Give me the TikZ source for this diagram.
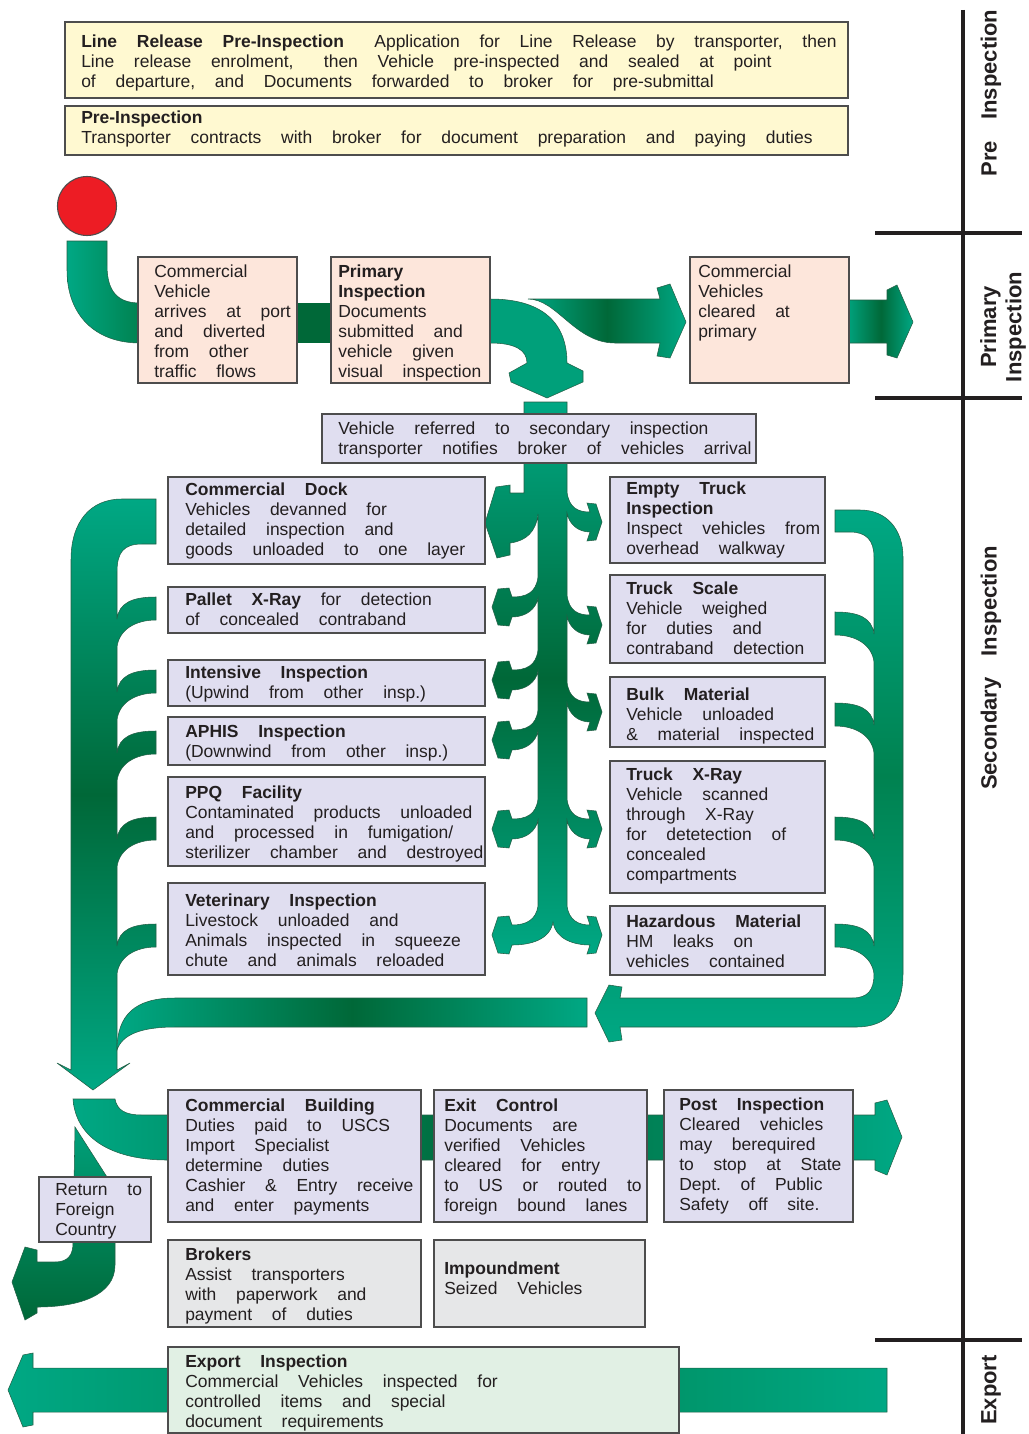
\documentclass[tikz,border=0pt]{standalone}
\usepackage{fontspec}
\setmainfont{Liberation Sans}
\usetikzlibrary{fit}
\definecolor{gl}{RGB}{0,168,132}
\definecolor{glb}{RGB}{0,160,122}
\definecolor{gd}{RGB}{0,104,56}
\definecolor{gm}{RGB}{0,130,80}
\definecolor{cyel}{RGB}{255,249,209}
\definecolor{cpch}{RGB}{253,230,219}
\definecolor{clav}{RGB}{224,222,240}
\definecolor{cgry}{RGB}{230,231,232}
\definecolor{cexp}{RGB}{225,240,228}
\definecolor{boxline}{RGB}{77,77,77}
\definecolor{ctext}{RGB}{35,31,32}
\definecolor{cred}{RGB}{237,28,36}
\definecolor{carr}{RGB}{35,95,70}
\newcommand\txtfont{\fontsize{13.1}{15}\selectfont\frenchspacing\spaceskip=14.8pt\relax}
\newcommand\labfont{\fontsize{16.5}{19}\selectfont\bfseries\frenchspacing\spaceskip=16pt\relax}
% left branch of trunk (path going down along x=538)
\newcommand\lbr[1]{-- (538,#1-30) .. controls (536,#1-14) and (526,#1-10) .. (512,#1-10) -- (509,#1-19) -- (498,#1-18) -- (492,#1) -- (498,#1+18) -- (509,#1+19) -- (512,#1+10) .. controls (526,#1+10) and (536,#1+2) .. (538,#1-9)}
% right branch of trunk (path going up along x=567)
\newcommand\rbr[1]{-- (567,#1-9) .. controls (569,#1+2) and (578,#1+10) .. (590,#1+10) -- (587,#1+19) -- (596,#1+18) -- (602,#1) -- (596,#1-18) -- (587,#1-19) -- (590,#1-10) .. controls (578,#1-10) and (569,#1-14) .. (567,#1-30)}
% fins on the left loop (path going up along x=117)
\newcommand\lfin[1]{-- (117,#1+50) .. controls (119,#1+33) and (135,#1+23) .. (156,#1+23) -- (156,#1) .. controls (132,#1) and (119,#1+6) .. (117,#1+22)}
% fins on the right loop (path going up along x=874)
\newcommand\rfin[1]{-- (874,#1+50) .. controls (872,#1+33) and (856,#1+23) .. (835,#1+23) -- (835,#1) .. controls (859,#1) and (872,#1+6) .. (874,#1+22)}
\newcommand\bx[9]{%
  \node[boxs,#6,fit={(#2,#3) (#4,#5)}] (#1) {};
  \node[txt,anchor=north west] (#1t) at (#7,#8-14) {\rule{0pt}{10.5pt}#9};}
\begin{document}
\begin{tikzpicture}[x=0.75pt,y=-0.75pt,
  boxs/.style={draw=boxline,line width=0.9pt,inner sep=0pt},
  yel/.style={fill=cyel}, pch/.style={fill=cpch}, lav/.style={fill=clav},
  gry/.style={fill=cgry}, exf/.style={fill=cexp},
  txt/.style={inner sep=0pt,align=left,font=\txtfont,text=ctext},
  lab/.style={inner sep=0pt,align=center,font=\labfont,text=ctext,rotate=90},
  arr/.style={draw=carr,line width=0.4pt},
  divider/.style={draw=ctext,line width=3pt}]
\useasboundingbox (0,0) rectangle (1028,1434);

% ---------- green flow arrows ----------
% from start circle into first box
\path[arr,left color=gl,right color=gm] (67,241) -- (107,241) -- (107,265) .. controls (107,292) and (118,303) .. (140,303) -- (140,343) .. controls (95,343) and (67,315) .. (67,270) -- cycle;
% bar between the two primary boxes
\path[fill=gd] (290,303) rectangle (338,343);
% S-shaped arrow to "cleared at primary"
\path[arr,left color=gl,right color=gl,middle color=gd] (528,299) -- (660,299) -- (657,288) -- (670,284) -- (686,322) -- (670,358) -- (657,356) -- (660,343) -- (615,343) .. controls (575,343) and (557,299) .. (528,299) -- cycle;
% curved arrow down to secondary
\path[arr,fill=glb] (490,299) .. controls (545,299) and (567,325) .. (567,363) -- (583,371) -- (583,382) -- (547,398) -- (511,382) -- (509,373) -- (527,363) .. controls (527,350) and (515,343) .. (490,343) -- cycle;
% exit arrow after cleared box
\path[arr,left color=glb,right color=gl,middle color=gd] (849,300) -- (887,300) -- (887,290) -- (897,285) -- (913,322) -- (897,358) -- (887,355) -- (887,343) -- (849,343) -- cycle;

% central trunk with branches
\path[arr,top color=gl,bottom color=gl,middle color=gd]
 (524,402) -- (524,493) -- (510,493) -- (510,485) -- (496,487) -- (485,523) -- (497,558) -- (510,555) -- (510,543)
 .. controls (526,541) and (536,532) .. (538,514)
 \lbr{607}\lbr{680}\lbr{740}\lbr{829}
 -- (538,906) .. controls (536,920) and (526,925) .. (512,925) -- (509,916) -- (498,917) -- (492,935) -- (498,953) -- (509,954) -- (512,945)
 .. controls (530,945) and (550,940) .. (553,922)
 .. controls (556,940) and (575,945) .. (590,945) -- (587,954) -- (596,953) -- (602,935) -- (596,917) -- (587,916) -- (590,925)
 .. controls (578,925) and (569,920) .. (567,906)
 \rbr{829}\rbr{712}\rbr{625}\rbr{522}
 -- (567,402) -- cycle;

% left collecting loop
\path[arr,top color=gl,bottom color=gl,middle color=gd]
 (156,499) -- (122,499) .. controls (90,499) and (71,522) .. (71,560) -- (71,1070) -- (57,1063) -- (93,1090) -- (130,1063) -- (117,1070)
 \lfin{924}\lfin{817}\lfin{731}\lfin{670}\lfin{597}
 -- (117,572) .. controls (117,552) and (124,544) .. (142,544) -- (156,544) -- cycle;
% return band joining the left loop
\path[arr,left color=gl,right color=gl,middle color=gd] (117,1050) .. controls (117,1015) and (135,998) .. (175,998) -- (587,998) -- (587,1027) -- (175,1027) .. controls (140,1027) and (122,1035) .. (117,1050) -- cycle;
% right collecting loop
\path[arr,top color=gl,bottom color=gl,middle color=gm]
 (835,510) -- (860,510) .. controls (887,510) and (903,530) .. (903,557) -- (903,973) .. controls (903,1008) and (888,1027) .. (856,1027)
 -- (620,1027) -- (622,1040) -- (609,1042) -- (595,1013) -- (609,985) -- (622,987) -- (620,998) -- (852,998) .. controls (868,998) and (874,990) .. (874,974)
 \rfin{924}\rfin{817}\rfin{703}\rfin{612}
 -- (874,557) .. controls (874,540) and (866,532) .. (850,532) -- (835,532) -- cycle;
% bottom band through the exit boxes
\path[arr,left color=gl,right color=gl,middle color=gd] (73,1099) -- (115,1099) .. controls (117,1110) and (125,1115) .. (142,1115) -- (875,1115) -- (875,1103) -- (887,1100) -- (902,1137) -- (887,1175) -- (875,1170) -- (875,1160) -- (167,1160) .. controls (115,1160) and (76,1140) .. (73,1099) -- cycle;
% return to foreign country
\path[arr,top color=glb,bottom color=gd] (75,1127) -- (107,1177) -- (115,1243) -- (115,1265) .. controls (115,1295) and (80,1307) .. (37,1307) -- (37,1313) -- (25,1320) -- (12,1282) -- (25,1247) -- (37,1250) -- (37,1262) -- (55,1262) .. controls (68,1262) and (73,1255) .. (73,1243) -- cycle;
% export band
\path[arr,left color=gl,right color=gl,middle color=gm] (887,1368) -- (887,1412) -- (33,1412) -- (33,1425) -- (23,1427) -- (8,1390) -- (23,1355) -- (33,1353) -- (33,1368) -- cycle;

% start circle
\node[circle,fill=cred,draw=boxline,line width=0.8pt,minimum size=44.25pt,inner sep=0pt] (start) at (87,206) {};

% ---------- boxes ----------
\bx{lr}{65}{22}{848}{98}{yel}{81}{47}{\textbf{Line Release Pre-Inspection}\hspace{8pt} Application for Line Release by transporter, then\\Line release enrolment,\hspace{8pt} then Vehicle pre-inspected and sealed at point\\of departure, and Documents forwarded to broker for pre-submittal}
\bx{pi}{65}{106}{848}{155}{yel}{81}{123}{\textbf{Pre-Inspection}\\Transporter contracts with broker for document preparation and paying duties}
\bx{cv}{138}{257}{297}{383}{pch}{154}{277}{Commercial\\Vehicle\\arrives at port\\and diverted\\from other\\traffic flows}
\bx{prim}{331}{257}{490}{383}{pch}{338}{277}{\textbf{Primary}\\\textbf{Inspection}\\Documents\\submitted and\\vehicle given\\visual inspection}
\bx{clr}{690}{257}{849}{383}{pch}{698}{277}{Commercial\\Vehicles\\cleared at\\primary}
\bx{ref}{322}{414}{756}{463}{lav}{338}{434}{Vehicle referred to secondary inspection\\transporter notifies broker of vehicles arrival}
\bx{cd}{168}{477}{485}{564}{lav}{185}{495}{\textbf{Commercial Dock}\\Vehicles devanned for\\detailed inspection and\\goods unloaded to one layer}
\bx{px}{168}{587}{485}{633}{lav}{185}{605}{\textbf{Pallet X-Ray} for detection\\of concealed contraband}
\bx{ii}{168}{660}{485}{706}{lav}{185}{678}{\textbf{Intensive Inspection}\\(Upwind from other insp.)}
\bx{ap}{168}{717}{485}{765}{lav}{185}{737}{\textbf{APHIS Inspection}\\(Downwind from other insp.)}
\bx{ppq}{168}{777}{485}{866}{lav}{185}{798}{\textbf{PPQ Facility}\\Contaminated products unloaded\\and processed in fumigation/\\sterilizer chamber and destroyed}
\bx{vet}{168}{883}{485}{975}{lav}{185}{906}{\textbf{Veterinary Inspection}\\Livestock unloaded and\\Animals inspected in squeeze\\chute and animals reloaded}
\bx{et}{610}{477}{825}{563}{lav}{626}{494}{\textbf{Empty Truck}\\\textbf{Inspection}\\Inspect vehicles from\\overhead walkway}
\bx{ts}{610}{575}{825}{663}{lav}{626}{594}{\textbf{Truck Scale}\\Vehicle weighed\\for duties and\\contraband detection}
\bx{bm}{610}{677}{825}{747}{lav}{626}{700}{\textbf{Bulk Material}\\Vehicle unloaded\\\& material inspected}
\bx{tx}{610}{761}{825}{893}{lav}{626}{780}{\textbf{Truck X-Ray}\\Vehicle scanned\\through X-Ray\\for detetection of\\concealed\\compartments}
\bx{hz}{610}{906}{825}{975}{lav}{626}{927}{\textbf{Hazardous Material}\\HM leaks on\\vehicles contained}
\bx{cb}{168}{1090}{421}{1222}{lav}{185}{1111}{\textbf{Commercial Building}\\Duties paid to USCS\\Import Specialist\\determine duties\\Cashier \& Entry receive\\and enter payments}
\bx{ec}{434}{1090}{647}{1222}{lav}{444}{1111}{\textbf{Exit Control}\\Documents are\\verified Vehicles\\cleared for entry\\to US or routed to\\foreign bound lanes}
\bx{pst}{664}{1090}{853}{1222}{lav}{679}{1110}{\textbf{Post Inspection}\\Cleared vehicles\\may berequired\\to stop at State\\Dept. of Public\\Safety off site.}
\bx{rtn}{39}{1177}{151}{1242}{lav}{55}{1195}{Return to\\Foreign\\Country}
\bx{brk}{168}{1240}{421}{1327}{gry}{185}{1260}{\textbf{Brokers}\\Assist transporters\\with paperwork and\\payment of duties}
\bx{imp}{434}{1240}{645}{1327}{gry}{444}{1274}{\textbf{Impoundment}\\Seized Vehicles}
\bx{exp}{168}{1347}{679}{1433}{exf}{185}{1367}{\textbf{Export Inspection}\\Commercial Vehicles inspected for\\controlled items and special\\document requirements}

% ---------- phase dividers and labels ----------
\path[divider] (963,10) -- (963,1434);
\path[divider] (875,233) -- (1022,233);
\path[divider] (875,398) -- (1022,398);
\path[divider] (875,1340) -- (1022,1340);
\node[lab] (lpre) at (991,93) {Pre Inspection};
\node[lab] (lprim) at (1003,327) {Primary\\Inspection};
\node[lab] (lsec) at (991,668) {Secondary Inspection};
\node[lab] (lexp) at (991,1390) {Export};
\end{tikzpicture}
\end{document}
